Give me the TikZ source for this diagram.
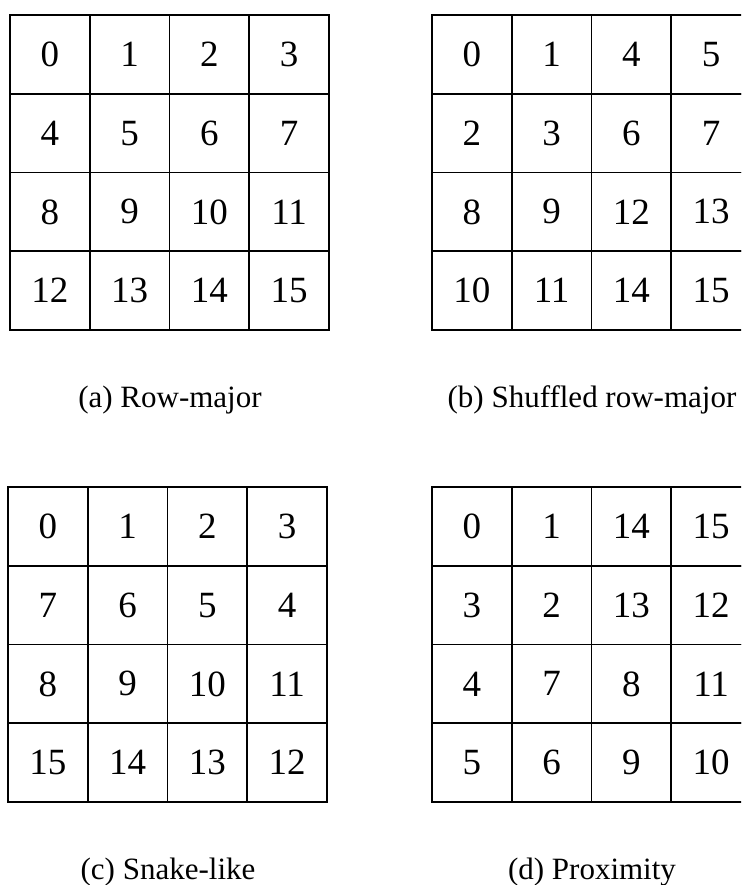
\documentclass[tikz,border=0pt]{standalone}
\usepackage{fontspec}
\setmainfont{Liberation Serif}
\usepackage{tikz}
\usetikzlibrary{positioning}

\tikzset{
  cell/.style={draw, line width=0.9pt, rectangle, inner sep=0pt,
    minimum width=39.875pt, minimum height=39.375pt,
    font=\fontsize{18.5}{20}\selectfont},
  caption/.style={font=\fontsize{15.5}{18}\selectfont}
}

\begin{document}
\begin{tikzpicture}[x=0.5pt, y=-0.5pt]
    \clip (0,0) rectangle (741,885);
    \fill[white] (0,0) rectangle (741,885);
    \foreach \g/\gx/\gy/\vals/\cap in {
        a/10/15/{0,1,2,3,4,5,6,7,8,9,10,11,12,13,14,15}/{(a) Row-major},
        b/432/15/{0,1,4,5,2,3,6,7,8,9,12,13,10,11,14,15}/{(b) Shuffled row-major},
        c/8/487/{0,1,2,3,7,6,5,4,8,9,10,11,15,14,13,12}/{(c) Snake-like},
        d/432/487/{0,1,14,15,3,2,13,12,4,7,8,11,5,6,9,10}/{(d) Proximity}}
    {
        \foreach \v [count=\i from 0] in \vals {
            \pgfmathtruncatemacro{\row}{\i/4}
            \pgfmathtruncatemacro{\col}{\i-4*\row}
            \node[cell] (\g\i) at ({\gx+79.75*(\col+0.5)}, {\gy+78.75*(\row+0.5)}) {\v};
        }
        \node[caption] (cap\g) at ({\gx+160}, {\gy+385}) {\cap};
    }
\end{tikzpicture}
\end{document}
